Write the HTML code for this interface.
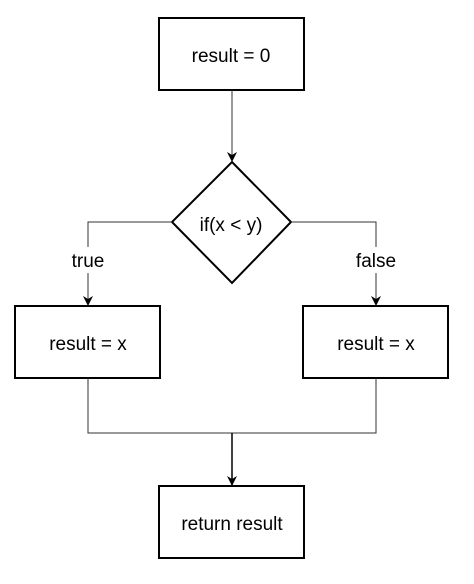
<!DOCTYPE html>
<html><head><style>body{margin:0;background:#fff}</style></head><body>
<svg width="474" height="579" viewBox="0 0 474 579" xmlns="http://www.w3.org/2000/svg" font-family="Liberation Sans, Arial, sans-serif" font-size="19">
<defs><marker id="a" markerWidth="10" markerHeight="10" refX="9" refY="5" orient="auto" markerUnits="userSpaceOnUse"><path d="M0,0 L10,5 L0,10 L3,5 z" fill="#000"/></marker></defs>
<g fill="#fff" stroke="#000" stroke-width="2">
<rect x="159" y="18" width="145" height="72"/>
<polygon points="232,162 291,222 232,283 172,222"/>
<rect x="15" y="306" width="145" height="72"/>
<rect x="303" y="306" width="145" height="72"/>
<rect x="159" y="486" width="145" height="72"/>
</g>
<g fill="none" stroke="#333" stroke-width="1">
<line x1="232" y1="90" x2="232" y2="161" marker-end="url(#a)"/>
<polyline points="172,222 88,222 88,247"/>
<line x1="88" y1="273" x2="88" y2="305" marker-end="url(#a)"/>
<polyline points="291,222 376,222 376,247"/>
<line x1="376" y1="273" x2="376" y2="305" marker-end="url(#a)"/>
<polyline points="88,378 88,433 376,433 376,378"/>
<line x1="232" y1="433" x2="232" y2="485" marker-end="url(#a)" stroke="#000" stroke-width="1.5"/>
</g>
<g text-anchor="middle" fill="#000">
<text x="231" y="62">result = 0</text>
<text x="231" y="231">if(x &lt; y)</text>
<text x="88" y="267">true</text>
<text x="376" y="267">false</text>
<text x="88" y="350">result = x</text>
<text x="376" y="350">result = x</text>
<text x="232" y="530">return result</text>
</g>
</svg>
</body></html>
